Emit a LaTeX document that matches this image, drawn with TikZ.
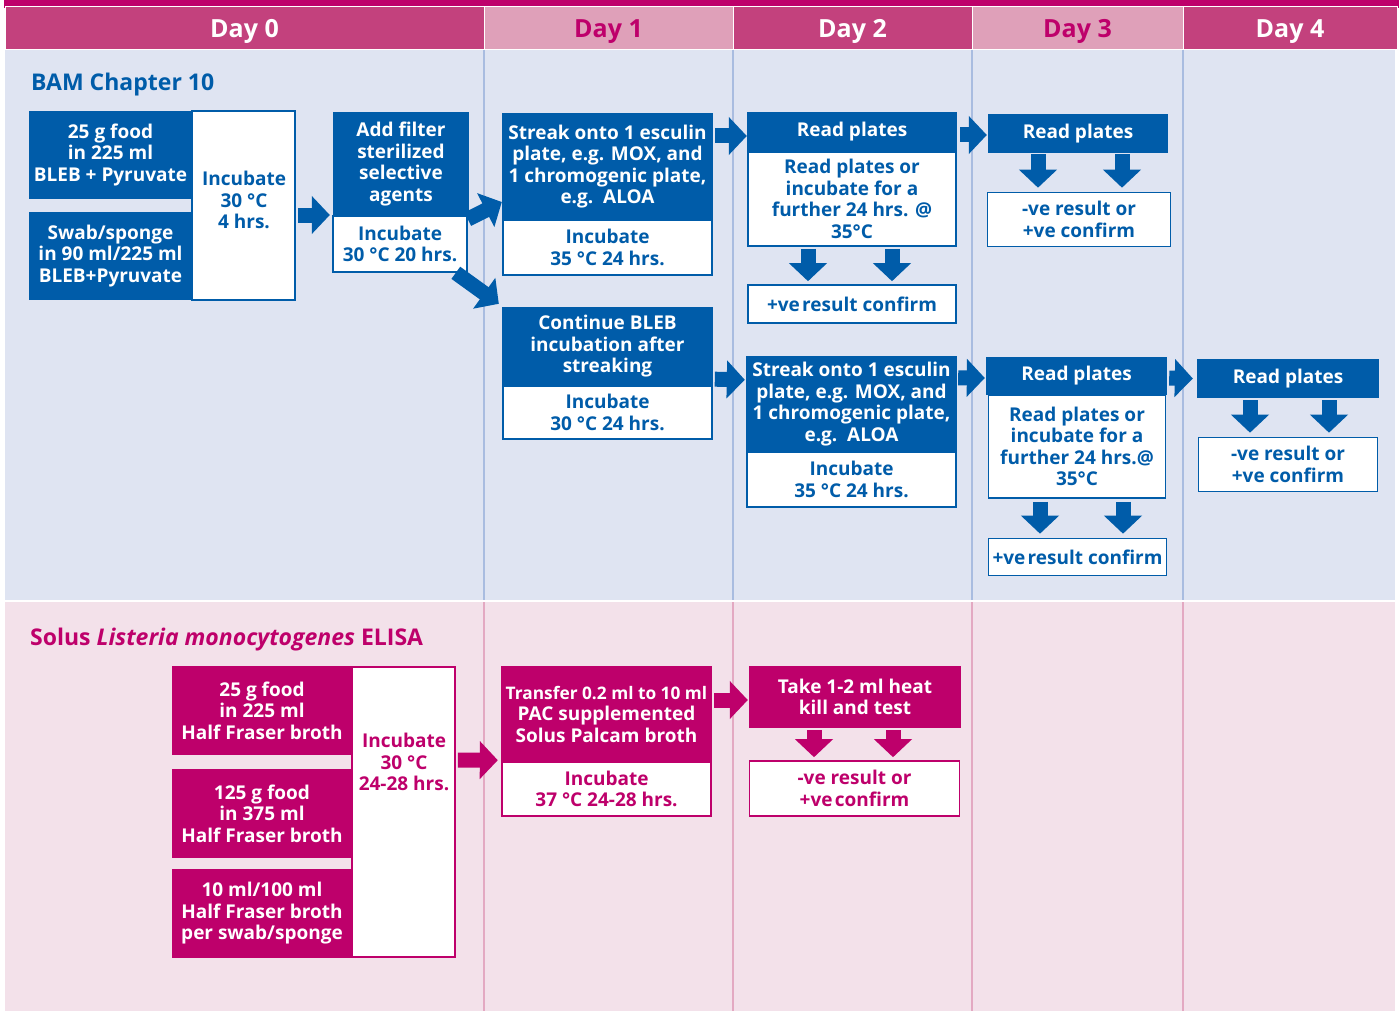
\documentclass[tikz,border=0pt]{standalone}
\usepackage{fontspec}
\setmainfont{Open Sans}
\usetikzlibrary{arrows.meta,calc}
\definecolor{bamblue}{HTML}{005CA9}
\definecolor{solmag}{HTML}{BE006B}
\definecolor{hdark}{HTML}{C3417D}
\definecolor{hlight}{HTML}{DFA0B9}
\definecolor{bgblue}{HTML}{DFE4F2}
\definecolor{bgpink}{HTML}{F3E1EA}
\definecolor{lnblue}{HTML}{A9BCE0}
\definecolor{lnpink}{HTML}{E3A9C2}
\begin{document}
\begin{tikzpicture}[x=1pt,y=-1pt,
  font=\bfseries\fontsize{19}{21.5}\selectfont,
  bbox/.style={fill=bamblue,text=white,inner sep=0pt,align=center},
  wbox/.style={fill=white,draw=bamblue,line width=1.6pt,text=bamblue,inner sep=0pt,align=center},
  mbox/.style={fill=solmag,text=white,inner sep=0pt,align=center},
  wmbox/.style={fill=white,draw=solmag,line width=1.6pt,text=solmag,inner sep=0pt,align=center},
  btext/.style={text=bamblue,inner sep=0pt,align=center},
  mtext/.style={text=solmag,inner sep=0pt,align=center},
  hdr/.style={draw=white,line width=1pt,inner sep=0pt,text height=18pt,text depth=0pt,font=\bfseries\fontsize{25}{30}\selectfont},
  fatb/.style={draw=bamblue,line width=15pt,-{Triangle[width=37pt,length=18pt]}},
  fatm/.style={draw=solmag,line width=15pt,-{Triangle[width=37pt,length=18pt]}},
  title/.style={anchor=base west,inner sep=0pt,font=\bfseries\fontsize{23}{28}\selectfont}
]
\useasboundingbox (0,0) rectangle (1399,1011);
% backgrounds
\fill[white] (0,0) rectangle (1399,1011);
\fill[solmag] (4,0) rectangle (1399,8);
\fill[bgblue] (5,50) rectangle (1395,600);
\fill[bgpink] (5,602) rectangle (1395,1011);
\foreach \xx in {484,733,972,1183}{
  \draw[lnblue,line width=1.2pt] (\xx,50) -- (\xx,600);
  \draw[lnpink,line width=1.2pt] (\xx,602) -- (\xx,1011);
}
% headers
\node[hdr,fill=hdark,text=white,minimum width=479pt,minimum height=43pt] (d0) at (244.5,28.5) {Day 0};
\node[hdr,fill=hlight,text=solmag,minimum width=249pt,minimum height=43pt] (d1) at (608.5,28.5) {Day 1};
\node[hdr,fill=hdark,text=white,minimum width=239pt,minimum height=43pt] (d2) at (852.5,28.5) {Day 2};
\node[hdr,fill=hlight,text=solmag,minimum width=211pt,minimum height=43pt] (d3) at (1077.5,28.5) {Day 3};
\node[hdr,fill=hdark,text=white,minimum width=214pt,minimum height=43pt] (d4) at (1290,28.5) {Day 4};
% titles
\node[title,text=bamblue] (t1) at (31,91) {BAM Chapter 10};
\node[title,text=solmag] (t2) at (30,645) {Solus \textit{Listeria monocytogenes} ELISA};

% ---- BAM ----
\node[bbox,minimum width=163pt,minimum height=88pt] (a1) at (110.5,155) {25 g food\\in 225 ml\\BLEB + Pyruvate};
\node[bbox,minimum width=163pt,minimum height=88pt] (a2) at (110.5,256) {Swab/sponge\\in 90 ml/225 ml\\BLEB+Pyruvate};
\node[wbox,minimum width=103pt,minimum height=189pt] (inc0) at (243.5,205.5) {};
\node[btext] (inc0t) at (244,200) {Incubate\\30 °C\\4 hrs.};
\node[bbox,minimum width=136pt,minimum height=104pt] (add) at (401,164) {Add filter\\sterilized\\selective\\agents};
\node[wbox,minimum width=134pt,minimum height=56pt] (addinc) at (400,244) {Incubate\\30 °C 20 hrs.};

\node[bbox,minimum width=211pt,minimum height=107pt] (streak) at (607.5,166.5) {Streak onto 1 esculin\\plate, e.g. MOX, and\\1 chromogenic plate,\\e.g.\ \ ALOA};
\node[wbox,minimum width=209pt,minimum height=55pt] (streakinc) at (607.5,247.5) {Incubate\\35 °C 24 hrs.};
\node[bbox,minimum width=211pt,minimum height=79pt] (cont) at (607.5,346.5) {Continue BLEB\\incubation after\\streaking};
\node[wbox,minimum width=209pt,minimum height=53pt] (continc) at (607.5,412.5) {Incubate\\30 °C 24 hrs.};

\node[bbox,minimum width=210pt,minimum height=40pt] (read2) at (852,132) {Read plates};
\node[wbox,minimum width=208pt,minimum height=94pt] (read2w) at (852,199) {Read plates or\\incubate for a\\further 24 hrs. @\\35°C};
\node[wbox,minimum width=208pt,minimum height=38pt] (conf2) at (852,304) {+ve\hspace{0.12em}result confirm};
\node[bbox,minimum width=211pt,minimum height=96pt] (streak2) at (851.5,404) {Streak onto 1 esculin\\plate, e.g. MOX, and\\1 chromogenic plate,\\e.g.\ \ ALOA};
\node[wbox,minimum width=209pt,minimum height=55pt] (streak2inc) at (851.5,479.5) {Incubate\\35 °C 24 hrs.};

\node[bbox,minimum width=180pt,minimum height=39pt] (read3) at (1078,133.5) {Read plates};
\node[wbox,minimum width=183pt,minimum height=54pt] (res3) at (1079,219.5) {-ve result or\\+ve confirm};
\node[bbox,minimum width=181pt,minimum height=38pt] (read3b) at (1076.5,376) {Read plates};
\node[wbox,minimum width=177pt,minimum height=103pt] (read3bw) at (1077,446.5) {Read plates or\\incubate for a\\further 24 hrs.@\\35°C};
\node[wbox,minimum width=178pt,minimum height=37pt] (conf3) at (1077.5,557) {+ve\hspace{0.12em}result confirm};

\node[bbox,minimum width=182pt,minimum height=39pt] (read4) at (1288,378.5) {Read plates};
\node[wbox,minimum width=179pt,minimum height=54pt] (res4) at (1288,464.5) {-ve result or\\+ve confirm};

% BAM arrows
\draw[fatb] ($(inc0.east)+(2,9.5)$) -- ($(add.west)+(-3,51)$);
\draw[fatb] ($(addinc.north east)+(0,4)$) -- ($(streak.west)+(0,35.5)$);
\draw[fatb] ($(addinc.south east)+(-12,0)$) -- ($(cont.north west)+(-3,-3)$);
\draw[fatb] ($(streak.east |- read2.east)+(2,4)$) -- ($(read2.west)+(0,4)$);
\draw[fatb] ($(continc.north east)+(2,-6)$) -- ($(streak2.north west)+(-1,24)$);
\draw[fatb] ($(read2.east)+(3,3)$) -- ($(read3.west)+(-1,1.5)$);
\draw[fatb] ($(streak2.north east)+(1,22)$) -- ($(read3b.west)+(-1,2)$);
\draw[fatb] ($(read3b.east)+(2,2)$) -- ($(read4.west)+(-4,0)$);
\draw[fatb] ($(read2w.south)+(-44,2)$) -- ($(conf2.north)+(-44,-3)$);
\draw[fatb] ($(read2w.south)+(40,2)$) -- ($(conf2.north)+(40,-3)$);
\draw[fatb] ($(read3.south)+(-40,1)$) -- ($(res3.north)+(-41,-4)$);
\draw[fatb] ($(read3.south)+(44,1)$) -- ($(res3.north)+(43,-4)$);
\draw[fatb] ($(read3bw.south)+(-37,3)$) -- ($(conf3.north)+(-37.5,-4)$);
\draw[fatb] ($(read3bw.south)+(46,3)$) -- ($(conf3.north)+(45.5,-4)$);
\draw[fatb] ($(read4.south)+(-38,2)$) -- ($(res4.north)+(-38,-4)$);
\draw[fatb] ($(read4.south)+(41,2)$) -- ($(res4.north)+(41,-4)$);

% ---- Solus ----
\node[mbox,minimum width=180pt,minimum height=89pt] (b1) at (262,710.5) {25 g food\\in 225 ml\\Half Fraser broth};
\node[mbox,minimum width=180pt,minimum height=89pt] (b2) at (262,813.5) {125 g food\\in 375 ml\\Half Fraser broth};
\node[mbox,minimum width=180pt,minimum height=89pt] (b3) at (262,913.5) {10 ml/100 ml\\Half Fraser broth\\per swab/sponge};
\node[wmbox,minimum width=103pt,minimum height=290pt] (pinc) at (403.5,812) {};
\node[mtext] (pinct) at (404,762) {Incubate\\30 °C\\24-28 hrs.};
\node[mbox,minimum width=211pt,minimum height=96pt] (trans) at (606.5,714) {{\fontsize{17.3}{21.5}\selectfont Transfer 0.2 ml to 10 ml}\\PAC supplemented\\Solus Palcam broth};
\node[wmbox,minimum width=209pt,minimum height=54pt] (transinc) at (606.5,789) {Incubate\\37 °C 24-28 hrs.};
\node[mbox,minimum width=212pt,minimum height=62pt] (take) at (855,697) {Take 1-2 ml heat\\kill and test};
\node[wmbox,minimum width=210pt,minimum height=55pt] (res2p) at (854.5,788.5) {-ve result or\\+ve\hspace{0.12em}confirm};

\draw[fatm] ($(pinc.east)+(2,-52)$) -- ($(trans.south west)+(-3,-2)$);
\draw[fatm] ($(trans.east)+(2,-14)$) -- ($(take.west)+(-1,3)$);
\draw[fatm] ($(take.south)+(-41,2)$) -- ($(res2p.north)+(-40.5,-3)$);
\draw[fatm] ($(take.south)+(38,2)$) -- ($(res2p.north)+(38.5,-3)$);
\end{tikzpicture}
\end{document}
